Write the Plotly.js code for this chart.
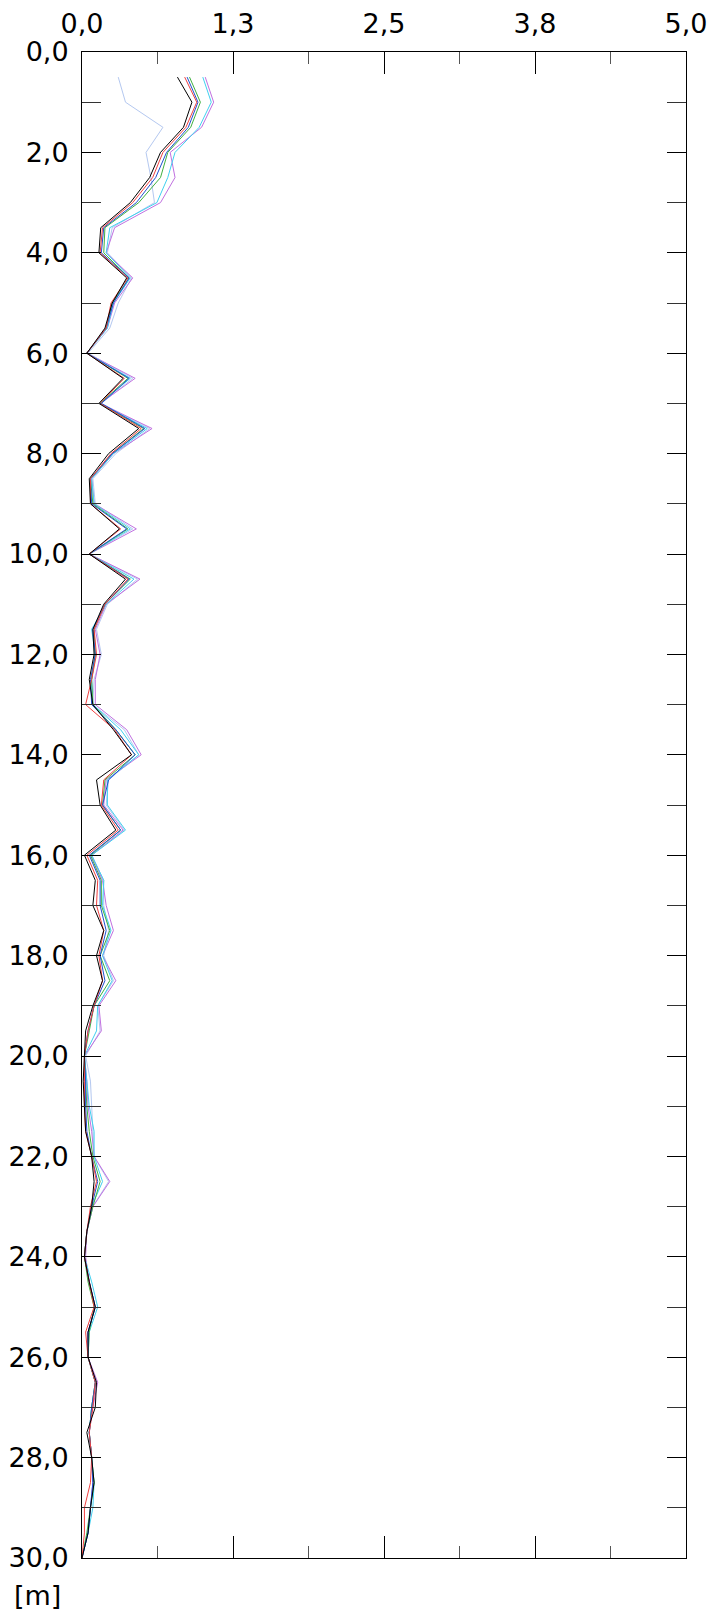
<!DOCTYPE html>
<html>
<head>
<meta charset="utf-8">
<script src="https://cdn.plot.ly/plotly-3.0.1.min.js"></script>
<style>html,body{margin:0;padding:0;background:#fff;}#chart{width:713px;height:1616px;}</style>
</head>
<body>
<div id="chart"></div>
<script>
// Depth [m]
const depth = [0.5,1.0,1.5,2.0,2.5,3.0,3.5,4.0,4.5,5.0,5.5,6.0,6.5,7.0,7.5,8.0,8.5,9.0,9.5,10.0,
  10.5,11.0,11.5,12.0,12.5,13.0,13.5,14.0,14.5,15.0,15.5,16.0,16.5,17.0,17.5,18.0,18.5,19.0,19.5,20.0,
  20.5,21.0,21.5,22.0,22.5,23.0,23.5,24.0,24.5,25.0,25.5,26.0,26.5,27.0,27.5,28.0,28.5,29.0,29.5,30.0];

const seriesBlack = [0.79,0.91,0.84,0.65,0.56,0.40,0.155,0.14,0.37,0.25,0.19,0.04,0.34,0.14,0.47,0.22,0.06,0.07,0.31,0.06,
  0.36,0.18,0.09,0.10,0.06,0.09,0.26,0.41,0.12,0.15,0.28,0.02,0.11,0.09,0.18,0.12,0.17,0.09,0.03,0.02,
  0.01,0.02,0.03,0.08,0.10,0.08,0.04,0.02,0.06,0.11,0.05,0.05,0.12,0.11,0.04,0.08,0.10,0.07,0.05,0.0];
const seriesRed = [0.85,0.95,0.86,0.67,0.585,0.42,0.17,0.15,0.38,0.24,0.20,0.04,0.35,0.15,0.49,0.24,0.07,0.07,0.32,0.06,
  0.38,0.19,0.10,0.12,0.08,0.03,0.27,0.41,0.18,0.16,0.30,0.04,0.13,0.12,0.18,0.14,0.17,0.10,0.05,0.02,
  0.02,0.02,0.03,0.08,0.12,0.07,0.04,0.02,0.06,0.10,0.03,0.05,0.11,0.09,0.06,0.08,0.07,0.02,0.02,0.0];
const seriesBlue = [0.87,0.96,0.88,0.70,0.61,0.45,0.18,0.16,0.39,0.26,0.20,0.04,0.39,0.16,0.52,0.25,0.07,0.08,0.37,0.06,
  0.39,0.19,0.09,0.11,0.07,0.08,0.28,0.44,0.22,0.17,0.32,0.06,0.15,0.15,0.20,0.15,0.19,0.10,0.05,0.02,
  0.03,0.03,0.04,0.08,0.13,0.08,0.04,0.02,0.06,0.11,0.05,0.05,0.11,0.08,0.06,0.08,0.09,0.07,0.05,0.0];
const seriesGreen = [0.89,0.98,0.90,0.71,0.65,0.47,0.19,0.18,0.39,0.25,0.20,0.04,0.38,0.15,0.51,0.25,0.07,0.09,0.38,0.06,
  0.40,0.19,0.10,0.11,0.08,0.09,0.28,0.44,0.19,0.17,0.32,0.07,0.16,0.16,0.23,0.15,0.23,0.10,0.06,0.02,
  0.03,0.04,0.06,0.09,0.15,0.09,0.04,0.02,0.05,0.10,0.06,0.05,0.11,0.08,0.06,0.08,0.10,0.07,0.04,0.0];
const seriesCyan = [1.00,1.07,0.97,0.77,0.71,0.62,0.23,0.20,0.40,0.26,0.21,0.04,0.40,0.15,0.54,0.26,0.08,0.10,0.40,0.06,
  0.43,0.20,0.08,0.11,0.08,0.09,0.32,0.47,0.21,0.21,0.36,0.08,0.18,0.17,0.24,0.17,0.25,0.13,0.12,0.02,
  0.04,0.06,0.10,0.10,0.17,0.08,0.04,0.02,0.08,0.13,0.06,0.05,0.11,0.08,0.06,0.08,0.10,0.09,0.05,0.0];
const seriesViolet = [1.02,1.09,0.99,0.73,0.77,0.65,0.27,0.20,0.42,0.27,0.21,0.04,0.44,0.15,0.58,0.26,0.08,0.10,0.45,0.06,
  0.48,0.20,0.11,0.15,0.11,0.11,0.37,0.49,0.20,0.18,0.34,0.08,0.17,0.20,0.26,0.17,0.28,0.14,0.16,0.02,
  0.04,0.05,0.08,0.10,0.23,0.09,0.04,0.03,0.06,0.11,0.05,0.05,0.13,0.09,0.06,0.08,0.09,0.07,0.05,0.0];
const seriesLight = [0.30,0.36,0.67,0.53,0.57,0.60,0.25,0.21,0.41,0.30,0.23,0.05,0.42,0.16,0.56,0.28,0.09,0.11,0.42,0.06,
  0.46,0.21,0.12,0.16,0.10,0.09,0.35,0.47,0.22,0.20,0.35,0.08,0.18,0.18,0.22,0.18,0.26,0.13,0.15,0.03,
  0.07,0.08,0.09,0.10,0.22,0.09,0.04,0.02,0.06,0.11,0.05,0.05,0.12,0.08,0.06,0.08,0.09,0.07,0.05,0.0];

const xTickVals = [0, 1.25, 2.5, 3.75, 5];
const xTickText = ['0,0', '1,3', '2,5', '3,8', '5,0'];
const xMinorVals = [0.625, 1.875, 3.125, 4.375];
const yTickVals = [0,2,4,6,8,10,12,14,16,18,20,22,24,26,28,30];
const yTickText = ['0,0','2,0','4,0','6,0','8,0','10,0','12,0','14,0','16,0','18,0','20,0','22,0','24,0','26,0','28,0','30,0'];
const yMinorVals = [1,3,5,7,9,11,13,15,17,19,21,23,25,27,29];

const series = [
  {v: seriesLight,  c: '#b4c8f0'},
  {v: seriesViolet, c: '#c070e0'},
  {v: seriesCyan,   c: '#40d0f0'},
  {v: seriesGreen,  c: '#40b040'},
  {v: seriesBlue,   c: '#2050d0'},
  {v: seriesRed,    c: '#f04040'},
  {v: seriesBlack,  c: '#000000'}
];

const traces = series.map(s => ({
  x: s.v, y: depth, type: 'scatter', mode: 'lines',
  line: {color: s.c, width: 1}, hoverinfo: 'skip', showlegend: false
}));

const font = {family: 'DejaVu Sans, Verdana, sans-serif', size: 27, color: '#000'};

const layout = {
  width: 713, height: 1616,
  margin: {l: 82, r: 27, t: 52, b: 58, pad: 0},
  paper_bgcolor: '#fff', plot_bgcolor: '#fff',
  showlegend: false,
  font: font,
  xaxis: {
    range: [0, 5], side: 'top', fixedrange: true,
    tickmode: 'array', tickvals: xTickVals, ticktext: xTickText,
    ticks: 'inside', ticklen: 22, tickwidth: 1, tickcolor: '#000',
    minor: {tickmode: 'array', tickvals: xMinorVals, ticks: 'inside', ticklen: 12, tickwidth: 1, tickcolor: '#555', showgrid: false},
    showline: true, linecolor: '#000', linewidth: 1, mirror: 'allticks',
    showgrid: false, zeroline: false, tickfont: font, ticklabelstandoff: 7
  },
  yaxis: {
    range: [30, 0], fixedrange: true,
    tickmode: 'array', tickvals: yTickVals, ticktext: yTickText,
    ticks: 'inside', ticklen: 19, tickwidth: 1, tickcolor: '#000',
    minor: {tickmode: 'array', tickvals: yMinorVals, ticks: 'inside', ticklen: 19, tickwidth: 1, tickcolor: '#333', showgrid: false},
    showline: true, linecolor: '#000', linewidth: 1, mirror: 'allticks',
    showgrid: false, zeroline: false, tickfont: font, ticklabelstandoff: 7
  },
  annotations: [{
    text: '[m]', xref: 'paper', yref: 'paper', x: -0.073, y: 0, xanchor: 'center', yanchor: 'top',
    yshift: -20, showarrow: false, font: font
  }]
};

Plotly.newPlot('chart', traces, layout, {staticPlot: true, displayModeBar: false});
</script>
</body>
</html>
